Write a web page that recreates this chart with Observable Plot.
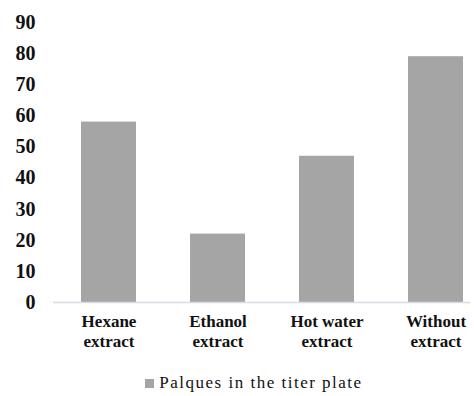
<!DOCTYPE html>
<html>
<head>
<meta charset="utf-8">
<script src="https://cdn.jsdelivr.net/npm/d3@7"></script>
<script src="https://cdn.jsdelivr.net/npm/@observablehq/plot@0.6"></script>
<style>
  body { margin: 0; background: #fff; font-family: "Liberation Serif", serif; }
  #chart { width: 474px; }
  .legend { width: 474px; height: 36px; display: flex; justify-content: center; align-items: center; padding-top: 10px; font-size: 17px; letter-spacing: 1.5px; color: #111; box-sizing: border-box; padding-left: 34px; }
  .legend .sw { display: inline-block; width: 9px; height: 9px; background: #a5a5a5; margin-right: 5px; }
</style>
</head>
<body>
<div id="chart"></div>
<div class="legend"><span class="sw"></span><span>Palques in the titer plate</span></div>
<script>
const categories = ["Hexane extract", "Ethanol extract", "Hot water extract", "Without extract"];
const tickLabels = ["Hexane\nextract", "Ethanol\nextract", "Hot water\nextract", "Without\nextract"];
const plaques = [58, 22, 47, 79];
const yTicks = [0, 10, 20, 30, 40, 50, 60, 70, 80, 90];
const seriesName = "Palques in the titer plate";

const data = categories.map((c, i) => ({category: c, value: plaques[i]}));

const chart = Plot.plot({
  width: 474,
  height: 360,
  marginLeft: 53,
  marginRight: 4,
  marginTop: 22,
  marginBottom: 58,
  style: {fontFamily: "'Liberation Serif'", color: "#111", background: "#fff"},
  x: {domain: categories, range: [53, 490], paddingInner: 0.5, paddingOuter: 0.25, align: 0.5},
  y: {domain: [0, 90]},
  marks: [
    Plot.barY(data, {x: "category", y: "value", fill: "#a5a5a5"}),
    Plot.ruleY([0], {stroke: "#d6dce4", strokeWidth: 1.5}),
    Plot.axisY({ticks: yTicks, tickSize: 0, tickPadding: 18, fontSize: 20, fontWeight: "bold", label: null}),
    Plot.axisX({tickSize: 0, tickPadding: 11, fontSize: 17, fontWeight: "bold", lineHeight: 1.15, label: null,
      tickFormat: d => tickLabels[categories.indexOf(d)]})
  ]
});
document.getElementById("chart").appendChild(chart);
</script>
</body>
</html>
